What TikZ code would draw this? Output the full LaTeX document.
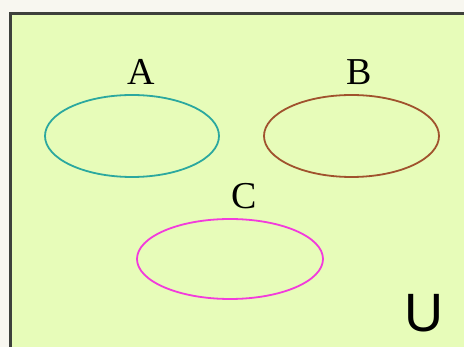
\documentclass[tikz,border=0pt]{standalone}
\usepackage{fontspec}
\setmainfont{Liberation Serif}
\setsansfont{Liberation Sans}
\usetikzlibrary{shapes.geometric}

\begin{document}
\begin{tikzpicture}[
    x=1pt, y=-1pt,
    every node/.style={font=\rmfamily},
    setshape/.style={ellipse, draw, line width=1.8pt, inner sep=0pt},
    setlabel/.style={anchor=base, font=\rmfamily\fontsize{38}{38}\selectfont},
]

\definecolor{paper}{HTML}{F8F7F0}
\definecolor{universe}{HTML}{E7FCB9}   % the universe box
\definecolor{frame}{HTML}{3E413C}
\definecolor{ca}{HTML}{2BA89F}
\definecolor{cb}{HTML}{A0522D}
\definecolor{cc}{HTML}{F23BDC}

% ------------------------------------------------------------ page and box
\useasboundingbox (0, 0) rectangle (464, 347);
\fill[paper] (0, 0) rectangle (464, 347);
\clip (0, 0) rectangle (464, 347);
\draw[frame, fill=universe, line width=3pt] (10, 14) rectangle (475, 360);

% ------------------------------------------------------------ the three sets
\node[setshape, draw=ca, minimum width=174pt, minimum height=82pt]
    (setA) at (132, 136) {};
\node[setshape, draw=cb, minimum width=175pt, minimum height=82pt]
    (setB) at (351.5, 136) {};
\node[setshape, draw=cc, minimum width=186pt, minimum height=80pt]
    (setC) at (230, 259) {};

\node[setlabel] (labelA) at (141, 85) {A};
\node[setlabel] (labelB) at (359, 85) {B};
\node[setlabel] (labelC) at (244, 209) {C};

% ------------------------------------------------------------ universe
\node[anchor=base, font=\sffamily\fontsize{54}{54}\selectfont]
    (labelU) at (424, 332) {U};

\end{tikzpicture}
\end{document}
